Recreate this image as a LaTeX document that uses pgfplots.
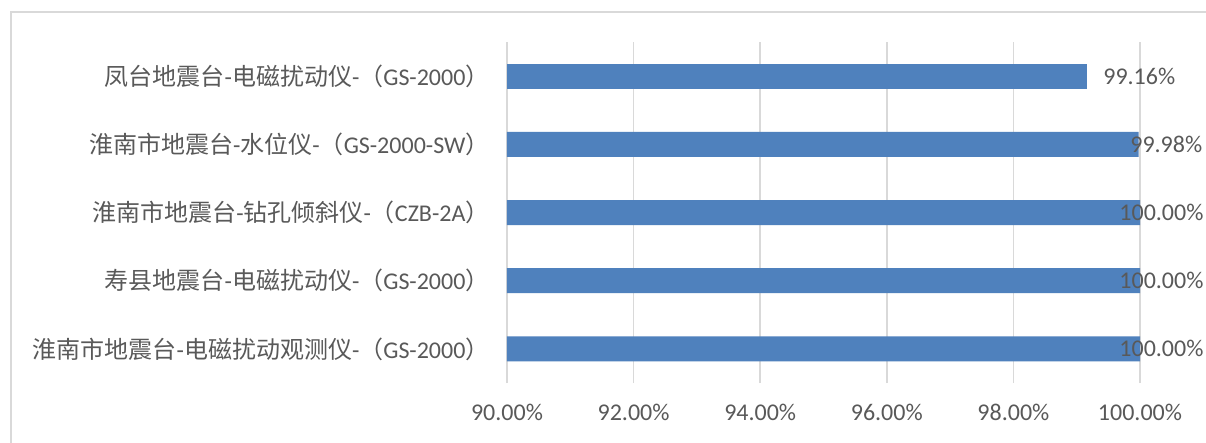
\documentclass[border=0pt]{standalone}
\usepackage{pgfplots}
\pgfplotsset{compat=1.18}
\usepackage{fontspec}
\setmainfont{Carlito}
\newfontfamily\cjk{Noto Sans CJK SC}
\definecolor{barblue}{HTML}{4F81BD}
\definecolor{gridgray}{HTML}{D9D9D9}
\definecolor{txtgray}{HTML}{595959}
\pgfplotsset{/pgf/number format/assume math mode=true}
\newcommand\fs{\fontsize{24}{29}\selectfont}
\begin{document}
\begin{tikzpicture}
\clip (-507pt,-59pt) rectangle (699pt,383pt);
\fill[white] (-507pt,-59pt) rectangle (699pt,383pt);
\draw[gridgray, line width=1.5pt] (-496pt,-120pt) rectangle (760pt,371pt);
\begin{axis}[
  scale only axis,
  width=633pt, height=341pt,
  xmin=90, xmax=100, ymin=0.5, ymax=5.5,
  xtick={90,92,94,96,98,100},
  ytick={1,2,3,4,5},
  yticklabels={
    {{\cjk 淮南市地震台}-{\cjk 电磁扰动观测仪}-{\cjk （}GS-2000{\cjk ）}},
    {{\cjk 寿县地震台}-{\cjk 电磁扰动仪}-{\cjk （}GS-2000{\cjk ）}},
    {{\cjk 淮南市地震台}-{\cjk 钻孔倾斜仪}-{\cjk （}CZB-2A{\cjk ）}},
    {{\cjk 淮南市地震台}-{\cjk 水位仪}-{\cjk （}GS-2000-SW{\cjk ）}},
    {{\cjk 凤台地震台}-{\cjk 电磁扰动仪}-{\cjk （}GS-2000{\cjk ）}}
  },
  xticklabel={\pgfmathprintnumber[fixed,fixed zerofill,precision=2]{\tick}\%},
  xticklabel style={font=\fs, text=txtgray, yshift=-18pt},
  yticklabel style={font=\fs, text=txtgray, xshift=-14pt},
  xmajorgrids,
  major grid style={gridgray, line width=1.5pt},
  axis line style={draw=none},
  major tick length=0pt,
  xbar, bar width=25pt, bar shift=0pt,
  point meta=x,
  nodes near coords={\pgfmathprintnumber[fixed,fixed zerofill,precision=2]{\pgfplotspointmeta}\%},
  nodes near coords style={font=\fs, text=txtgray},
]
\addplot[fill=barblue, draw=none, nodes near coords style={anchor=west, xshift=13pt}] coordinates {(99.16,5)};
\addplot[fill=barblue, draw=none, nodes near coords style={anchor=east, xshift=67pt}] coordinates {(99.98,4) (100,3) (100,2) (100,1)};
\end{axis}
\end{tikzpicture}
\end{document}
